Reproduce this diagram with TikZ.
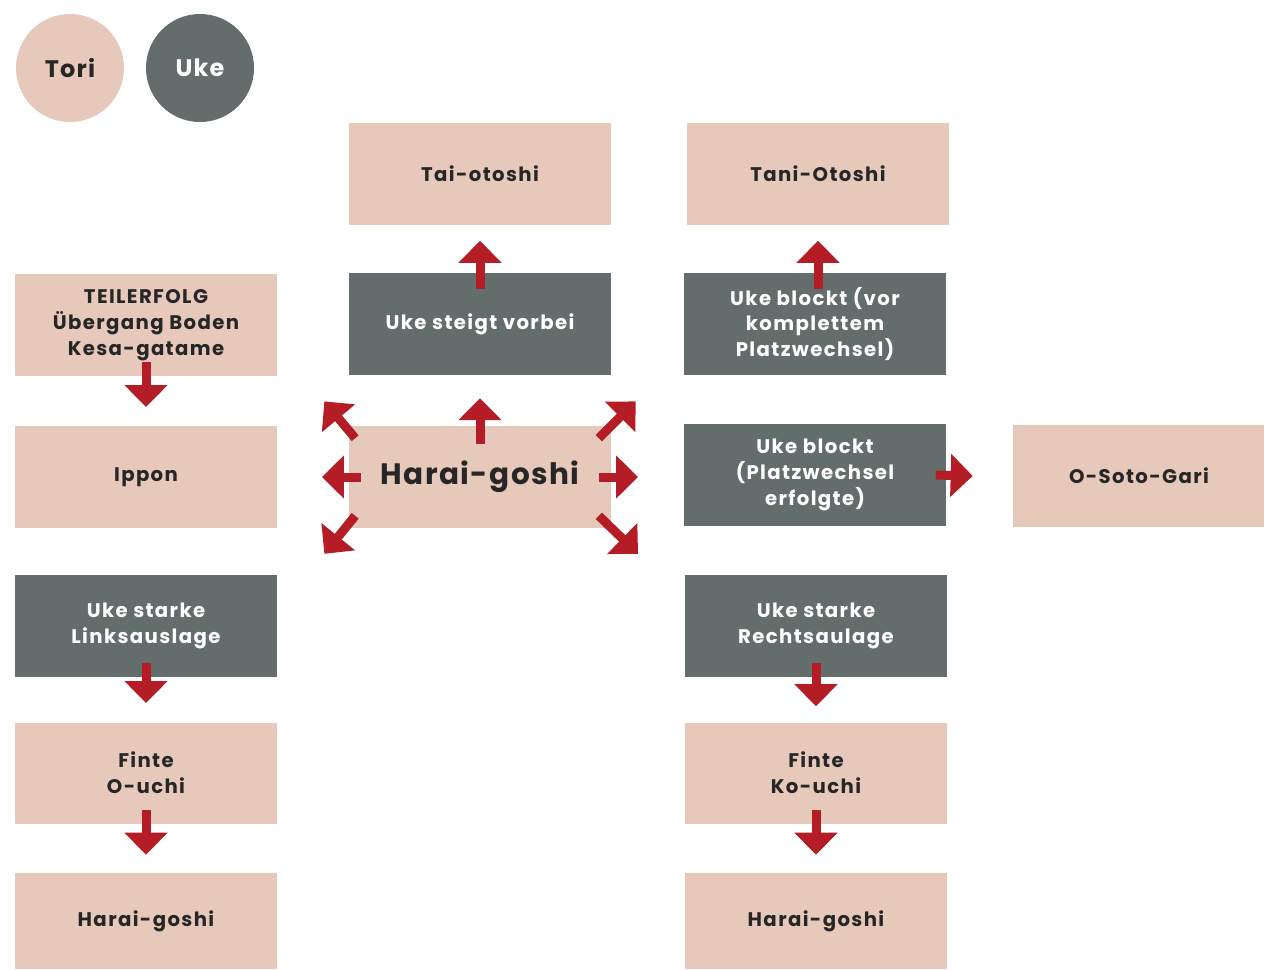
\documentclass[tikz,border=0pt]{standalone}
\usepackage{fontspec}
\setmainfont{Poppins}
\usetikzlibrary{arrows.meta}
\definecolor{toripink}{RGB}{231,201,187}
\definecolor{ukegray}{RGB}{99,110,108}
\definecolor{arrowred}{RGB}{180,28,38}
\tikzset{
  tori/.style={
    rectangle,
    fill=toripink,
    text=black!85,
    minimum width=6.525cm,
    minimum height=2.525cm,
    align=center,
    inner sep=2pt,
    font=\fontsize{14}{18.4}\selectfont\bfseries\addfontfeature{LetterSpace=7},
  },
  uke/.style={
    tori,
    fill=ukegray,
    text=white,
  },
  legend/.style={
    circle,
    minimum size=2.7cm,
    minimum width=2.7cm,
    minimum height=2.7cm,
    font=\fontsize{17}{20}\selectfont\bfseries\addfontfeature{LetterSpace=5},
  },
  fatarrow/.style={
    draw=arrowred,
    line width=0.225cm,
    arrows={-{Triangle[width=1.05cm, length=0.55cm]}},
    color=arrowred,
  }
}

\begin{document}
\begin{tikzpicture}[x=0.025cm, y=-0.025cm]
    \useasboundingbox (0, 0) rectangle (1264, 969);

    % legend
    \node[tori, legend] (tori) at (70, 68) {Tori};
    \node[uke, legend] (uke) at (200, 68) {Uke};

    % top row
    \node[tori] (taiotoshi) at (480, 174) {Tai-otoshi};
    \node[tori] (taniotoshi) at (818, 174) {Tani-Otoshi};

    \node[tori] (teilerfolg) at (146, 325) {TEILERFOLG\\Übergang Boden\\Kesa-gatame};
    \node[uke] (steigt) at (480, 324) {Uke steigt vorbei};
    \node[uke] (blocktvor) at (815, 324) {Uke blockt (vor\\komplettem\\Platzwechsel)};

    % middle row
    \node[tori, font=\fontsize{21}{24}\selectfont\bfseries\addfontfeature{LetterSpace=5}] (harai) at (480, 477) {Harai-goshi};
    \node[tori] (ippon) at (146, 477) {Ippon};
    \node[uke] (blocktnach) at (815, 475) {Uke blockt\\(Platzwechsel\\erfolgte)};
    \node[tori, minimum width=6.3cm] (osoto) at (1139, 476) {O-Soto-Gari};

    % left column
    \node[uke] (links) at (146, 626) {Uke starke\\Linksauslage};
    \node[tori] (ouchi) at (146, 773) {Finte\\O-uchi};
    \node[tori, minimum height=2.4cm] (haraileft) at (146, 921) {Harai-goshi};

    % right column
    \node[uke] (rechts) at (816, 626) {Uke starke\\Rechtsaulage};
    \node[tori] (kouchi) at (816, 773) {Finte\\Ko-uchi};
    \node[tori, minimum height=2.4cm] (harairight) at (816, 921) {Harai-goshi};

    % arrows between boxes
    \draw[fatarrow] ([yshift=0.35cm]teilerfolg.south) -- ([yshift=0.48cm]ippon.north);
    \draw[fatarrow] ([yshift=0.35cm]links.south) -- ([yshift=0.48cm]ouchi.north);
    \draw[fatarrow] ([yshift=0.35cm]ouchi.south) -- ([yshift=0.45cm]haraileft.north);
    \draw[fatarrow] ([yshift=0.35cm]rechts.south) -- ([yshift=0.4cm]kouchi.north);
    \draw[fatarrow] ([yshift=0.35cm]kouchi.south) -- ([yshift=0.45cm]harairight.north);
    \draw[fatarrow] ([yshift=-0.4cm]steigt.north) -- ([yshift=-0.4cm]taiotoshi.south);
    \draw[fatarrow] ([yshift=-0.4cm]taniotoshi.south |- blocktvor.north) -- ([yshift=-0.4cm]taniotoshi.south);
    \draw[fatarrow] ([xshift=-0.25cm]blocktnach.east) -- ([xshift=-1.0cm]osoto.west);

    % arrows out of the centre
    \draw[fatarrow] ([yshift=-0.45cm]harai.north) -- ([yshift=0.7cm]harai.north);
    \draw[fatarrow] ([xshift=0.3cm]harai.west) -- ([xshift=-0.68cm]harai.west);
    \draw[fatarrow] ([xshift=-0.3cm]harai.east) -- ([xshift=0.68cm]harai.east);
    \draw[fatarrow] ([xshift=0.15cm, yshift=-0.3cm]harai.north west) -- ([xshift=-0.62cm, yshift=0.62cm]harai.north west);
    \draw[fatarrow] ([xshift=-0.3cm, yshift=-0.3cm]harai.north east) -- ([xshift=0.62cm, yshift=0.62cm]harai.north east);
    \draw[fatarrow] ([xshift=0.15cm, yshift=0.3cm]harai.south west) -- ([xshift=-0.62cm, yshift=-0.65cm]harai.south west);
    \draw[fatarrow] ([xshift=-0.3cm, yshift=0.3cm]harai.south east) -- ([xshift=0.68cm, yshift=-0.65cm]harai.south east);

\end{tikzpicture}
\end{document}
